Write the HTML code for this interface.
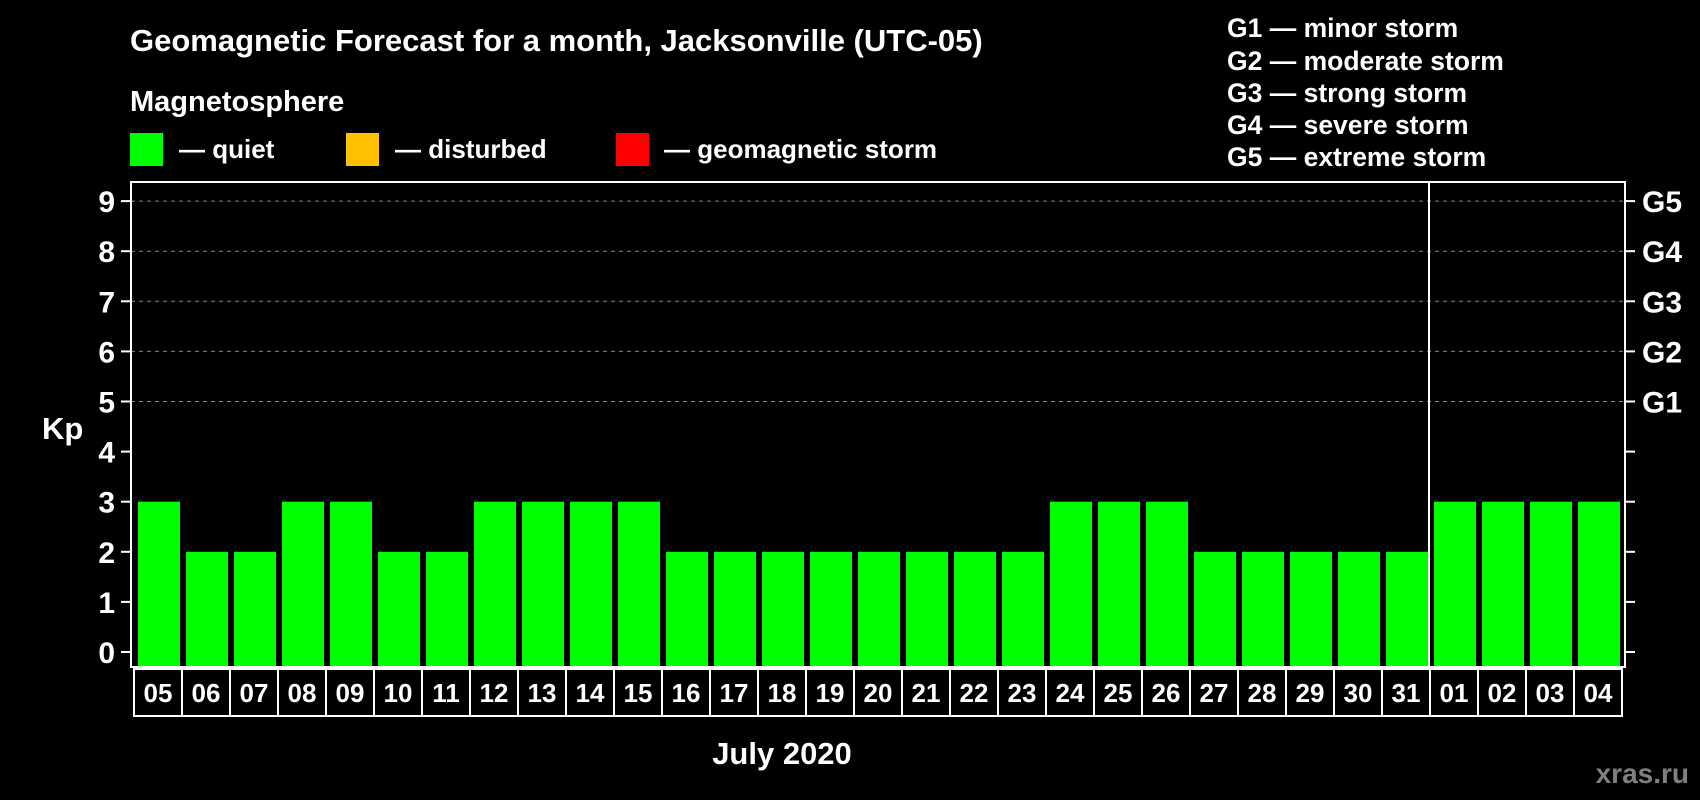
<!DOCTYPE html>
<html><head><meta charset="utf-8"><style>
html,body{margin:0;padding:0;background:#000;}
svg{display:block;font-family:"Liberation Sans",Arial,sans-serif;font-weight:bold;}
</style></head><body>
<svg id="chart" width="1700" height="800" viewBox="0 0 1700 800">
<rect width="1700" height="800" fill="#000"/>
<text x="130" y="51" font-size="31" fill="#fff">Geomagnetic Forecast for a month, Jacksonville (UTC-05)</text>
<text x="130" y="111" font-size="29" fill="#fff">Magnetosphere</text>
<rect x="130" y="133" width="33" height="33" fill="#00ff00"/>
<text x="179" y="158" font-size="26" fill="#fff">— quiet</text>
<rect x="346" y="133" width="33" height="33" fill="#ffc000"/>
<text x="395" y="158" font-size="26" fill="#fff">— disturbed</text>
<rect x="616" y="133" width="33" height="33" fill="#ff0000"/>
<text x="664" y="158" font-size="26" fill="#fff">— geomagnetic storm</text>
<g font-size="26.5" fill="#fff">
<text x="1227" y="37">G1 — minor storm</text>
<text x="1227" y="70">G2 — moderate storm</text>
<text x="1227" y="102">G3 — strong storm</text>
<text x="1227" y="134">G4 — severe storm</text>
<text x="1227" y="166">G5 — extreme storm</text>
</g>
<text x="42" y="439" font-size="31" fill="#fff">Kp</text>
<text x="782" y="764" font-size="31" fill="#fff" text-anchor="middle">July 2020</text>
<text x="1689" y="783" font-size="28" fill="#808080" text-anchor="end">xras.ru</text>
<g id="plot"></g>
</svg>
<script>
const days = ["05","06","07","08","09","10","11","12","13","14","15","16","17","18","19","20","21","22","23","24","25","26","27","28","29","30","31","01","02","03","04"];
const values = [3,2,2,3,3,2,2,3,3,3,3,2,2,2,2,2,2,2,2,3,3,3,2,2,2,2,2,3,3,3,3];
const yTicks = [0,1,2,3,4,5,6,7,8,9];
const gLabels = ["G1","G2","G3","G4","G5"];
const gLevels = [5,6,7,8,9];
const monthBreakIndex = 27;

const NS = "http://www.w3.org/2000/svg";
const g = document.getElementById("plot");
const L = 131, R = 1625, T = 182, B = 667;
const y0 = 652, unit = 50.1;
const band = 48, x0 = 135;
function yS(v){ return y0 - v * unit; }
function xS(i){ return x0 + i * band; }
function mk(tag, attrs){ const e = document.createElementNS(NS, tag); for (const k in attrs) e.setAttribute(k, attrs[k]); g.appendChild(e); return e; }

gLevels.forEach(v => {
  const e = mk("line", {x1:L, x2:R, y1:yS(v), y2:yS(v), stroke:"#888", "stroke-dasharray":"4,4", "stroke-width":1});
  
  
});
values.forEach((v, i) => {
  const e = mk("rect", {x:xS(i)+3, y:yS(v), width:42, height:B - yS(v), fill:"#00ff00"});
  
  
});
const fr = mk("rect", {x:L, y:T, width:R-L, height:B-T, fill:"none", stroke:"#fff", "stroke-width":2});


const sep = mk("line", {x1:xS(monthBreakIndex)-2, x2:xS(monthBreakIndex)-2, y1:T, y2:B, stroke:"#fff", "stroke-width":2});


yTicks.forEach(v => {
  const t1 = mk("line", {x1:L-10, x2:L, y1:yS(v), y2:yS(v), stroke:"#fff", "stroke-width":2});
  
  
  const t2 = mk("line", {x1:R, x2:R+10, y1:yS(v), y2:yS(v), stroke:"#fff", "stroke-width":2});
  
  
  const tx = mk("text", {x:115, y:yS(v)+11, "font-size":30, fill:"#fff", "text-anchor":"end"});
  tx.textContent = v;
  
  
});
gLabels.forEach((lab, i) => {
  const tx = mk("text", {x:1642, y:yS(gLevels[i])+11, "font-size":30, fill:"#fff"});
  tx.textContent = lab;
  
  
});
days.forEach((d, i) => {
  const b = mk("rect", {x:xS(i)-1, y:669, width:band, height:47, fill:"none", stroke:"#fff", "stroke-width":2});
  
  
  const tx = mk("text", {x:xS(i)+23, y:702, "font-size":26, fill:"#fff", "text-anchor":"middle"});
  tx.textContent = d;
  
  
});
</script>
</body></html>
